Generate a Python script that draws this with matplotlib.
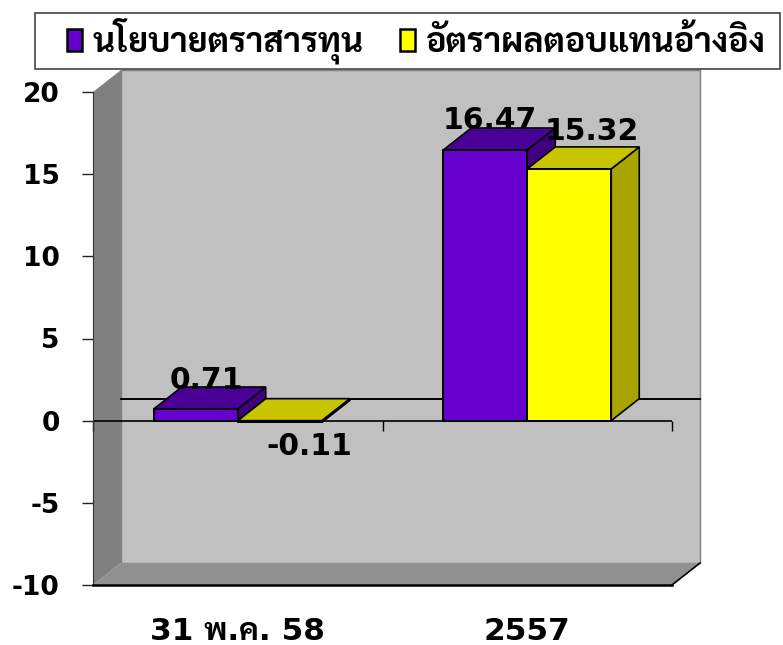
import matplotlib
matplotlib.use("Agg")
import matplotlib.pyplot as plt
from matplotlib.patches import Polygon, Rectangle

categories = ["31 พ.ค. 58", "2557"]
series_names = ["นโยบายตราสารทุน", "อัตราผลตอบแทนอ้างอิง"]
policy = [0.71, 16.47]
benchmark = [-0.11, 15.32]
y_ticks = [-10, -5, 0, 5, 10, 15, 20]

# colours: front, top, side
purple = ["#6600CC", "#4A0096", "#40007F"]
yellow = ["#FFFF00", "#C8C400", "#A8A400"]

plt.rcParams["font.family"] = ["DejaVu Sans", "Sarabun", "Noto Sans Thai", "Noto Sans Thai Looped", "Anuphan"]
plt.rcParams["font.weight"] = "bold"
plt.rcParams["axes.unicode_minus"] = False

W, H = 783, 645
fig = plt.figure(figsize=(W / 100, H / 100), dpi=100)
ax = fig.add_axes([93 / W, 1 - 585 / H, (672 - 93) / W, (585 - 92) / H])
ax.set_xlim(-0.5, 1.5)
ax.set_ylim(-10, 20)
ax.patch.set_alpha(0)

# depth of the fake 3d box, pixels turned into data units
dx = 28 / (672 - 93) * 2
dy = 22 / (585 - 92) * 30
bar_w = 84 / (672 - 93) * 2


def poly(pts, color, edge="none", lw=1.0, z=1):
    ax.add_patch(Polygon(pts, closed=True, facecolor=color, edgecolor=edge, lw=lw, zorder=z, clip_on=False))


x0, x1 = ax.get_xlim()
y0, y1 = ax.get_ylim()
# back wall, left wall, floor
poly([(x0 + dx, y0 + dy), (x1 + dx, y0 + dy), (x1 + dx, y1 + dy), (x0 + dx, y1 + dy)], "#C0C0C0", "#808080")
poly([(x0, y0), (x0 + dx, y0 + dy), (x0 + dx, y1 + dy), (x0, y1)], "#808080")
poly([(x0, y0), (x1, y0), (x1 + dx, y0 + dy), (x0 + dx, y0 + dy)], "#909090")
ax.plot([x1, x1 + dx], [y0, y0 + dy], color="black", lw=1.2, zorder=2, clip_on=False)
# zero line on the back wall
ax.plot([x0 + dx, x1 + dx], [dy, dy], color="black", lw=1.4, zorder=2, clip_on=False)
# zero axis with its ticks
ax.plot([x0, x1], [0, 0], color="black", lw=1.2, zorder=2)
ax.vlines([-0.5, 0.5, 1.5], -0.65, 0, color="black", lw=1.0, zorder=2, clip_on=False)


def bar3d(x, v, cols, left):
    top = max(v, 0)
    a, b = x - bar_w if left else x, x if left else x + bar_w
    poly([(b, min(v, 0)), (b + dx, min(v, 0) + dy), (b + dx, top + dy), (b, top)], cols[2], "black", 1.2, 3)
    poly([(a, top), (b, top), (b + dx, top + dy), (a + dx, top + dy)], cols[1], "black", 1.2, 3)


positions = range(len(categories))
for i in positions:
    bar3d(i, policy[i], purple, True)
for i in positions:
    bar3d(i, benchmark[i], yellow, False)
b1 = ax.bar([i - bar_w / 2 for i in positions], policy, bar_w, color=purple[0], edgecolor="black", lw=1.4, zorder=4, label=series_names[0])
b2 = ax.bar([i + bar_w / 2 for i in positions], benchmark, bar_w, color=yellow[0], edgecolor="black", lw=1.4, zorder=4, label=series_names[1])

# data labels, nudged by hand like in the original
label_style = dict(textcoords="offset pixels", ha="center", va="bottom", fontsize=21.5, zorder=6, color="black")
for i, off in zip(positions, [(11, 14), (5, 15)]):
    ax.annotate(f"{policy[i]:.2f}", (i - bar_w / 2, policy[i]), xytext=off, **label_style)
ax.annotate(f"{benchmark[0]:.2f}", (0 + bar_w / 2, 0), xytext=(29, -40), **label_style)
ax.annotate(f"{benchmark[1]:.2f}", (1 + bar_w / 2, benchmark[1]), xytext=(23, 23), **label_style)

ax.set_yticks(y_ticks)
ax.tick_params(axis="y", labelsize=19, length=8, width=1.0, pad=16, color="#222222")
ax.set_xticks(list(positions))
ax.set_xticklabels(categories, fontsize=22.5)
ax.tick_params(axis="x", length=0, pad=23)
for s in ["top", "right"]:
    ax.spines[s].set_visible(False)
ax.spines["left"].set_color("#333333")
ax.spines["bottom"].set_linewidth(1.8)
ax.spines["left"].set_zorder(3)
ax.spines["bottom"].set_zorder(3)

# legend frame, the text inside sits off centre so it is kept separate
fig.add_artist(Rectangle((35 / W, 1 - 69 / H), (780 - 35) / W, 56 / H, transform=fig.transFigure,
                         facecolor="white", edgecolor="#444444", lw=1.2, zorder=3))
leg = fig.legend(
    handles=[b1, b2], ncol=2, loc="center left", fontsize=24.5,
    bbox_to_anchor=(67 / W, 1 - 41 / H), frameon=False,
    handlelength=0.44, handleheight=0.6, handletextpad=0.3, columnspacing=1.09,
    borderaxespad=0, borderpad=0,
)
leg.set_zorder(4)
for h in leg.legend_handles:
    h.set_linewidth(1.8)

fig.savefig("out.png", dpi=100, facecolor="white")
